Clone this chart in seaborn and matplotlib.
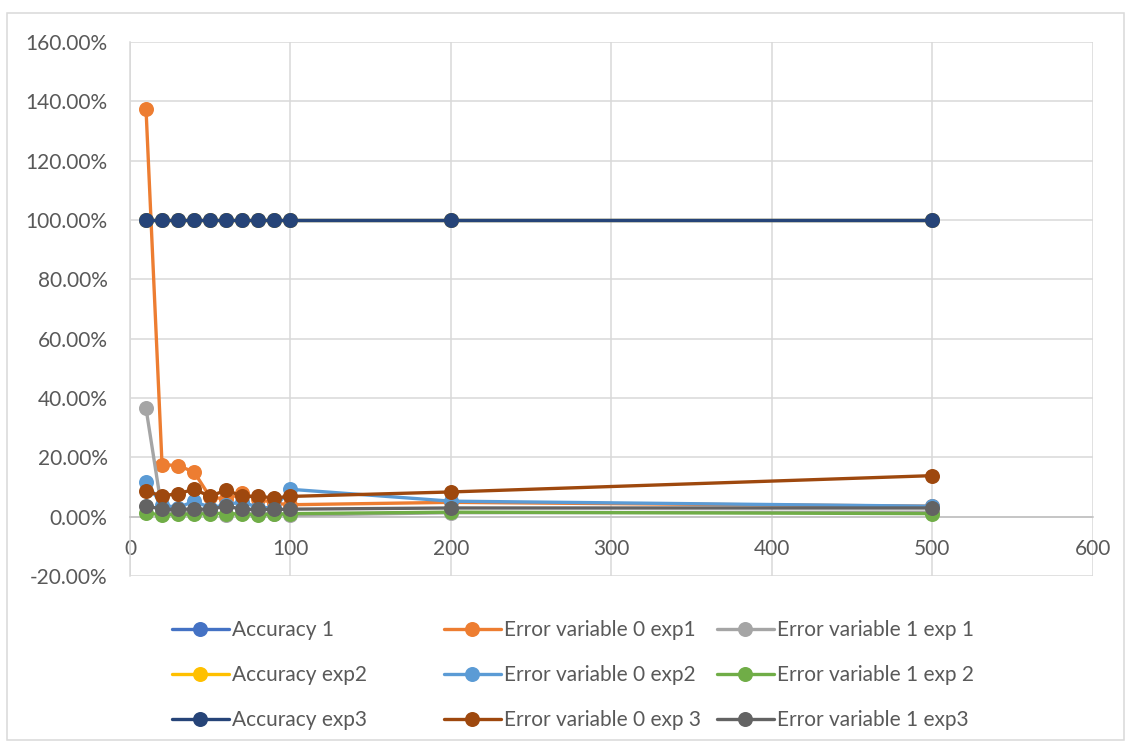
import numpy as np
import pandas as pd
import matplotlib
matplotlib.use("Agg")
import matplotlib.pyplot as plt
from matplotlib.ticker import PercentFormatter, MultipleLocator
from matplotlib.patches import Rectangle
import seaborn as sns

# Sample sizes
x_vals = [10, 20, 30, 40, 50, 60, 70, 80, 90, 100, 200, 500]

# Series (fractions, 1.0 = 100%)
accuracy_1 = [1.0] * 12
error0_exp1 = [1.375, 0.175, 0.172, 0.150, 0.065, 0.060, 0.078, 0.060, 0.045, 0.040, 0.048, 0.035]
error1_exp1 = [0.365, 0.020, 0.015, 0.015, 0.015, 0.007, 0.012, 0.010, 0.010, 0.005, 0.013, 0.015]
accuracy_exp2 = [1.0] * 12
error0_exp2 = [0.115, 0.040, 0.030, 0.052, 0.030, 0.040, 0.050, 0.030, 0.030, 0.092, 0.052, 0.035]
error1_exp2 = [0.012, 0.006, 0.008, 0.008, 0.010, 0.010, 0.008, 0.006, 0.008, 0.010, 0.015, 0.010]
accuracy_exp3 = [1.0] * 12
error0_exp3 = [0.085, 0.070, 0.077, 0.092, 0.068, 0.090, 0.068, 0.068, 0.063, 0.068, 0.083, 0.138]
error1_exp3 = [0.037, 0.024, 0.025, 0.025, 0.025, 0.035, 0.025, 0.024, 0.024, 0.025, 0.029, 0.029]

series_names = ["Accuracy 1", "Error variable 0 exp1", "Error variable 1 exp 1",
                "Accuracy exp2", "Error variable 0 exp2", "Error variable 1 exp 2",
                "Accuracy exp3", "Error variable 0 exp 3", "Error variable 1 exp3"]
series_values = [accuracy_1, error0_exp1, error1_exp1,
                 accuracy_exp2, error0_exp2, error1_exp2,
                 accuracy_exp3, error0_exp3, error1_exp3]
series_colors = ["#4472C4", "#ED7D31", "#A5A5A5",
                 "#FFC000", "#5B9BD5", "#70AD47",
                 "#264478", "#9E480E", "#636363"]

df = pd.concat(
    [pd.DataFrame({"x": x_vals, "value": v, "series": n}) for n, v in zip(series_names, series_values)],
    ignore_index=True,
)

sns.set_style("white")
plt.rcParams["font.family"] = ["Lato", "DejaVu Sans"]
plt.rcParams["axes.unicode_minus"] = False

fig = plt.figure(figsize=(11.3, 7.47), dpi=100)
ax = fig.add_axes([0.115, 0.229, 0.852, 0.715])

sns.lineplot(data=df, x="x", y="value", hue="series", hue_order=series_names,
             palette=dict(zip(series_names, series_colors)), marker="o",
             markersize=10.8, markeredgewidth=0, linewidth=2.4, legend=False,
             ax=ax, zorder=3)

ax.set_xlim(0, 600)
ax.set_ylim(-0.2, 1.6)
ax.xaxis.set_major_locator(MultipleLocator(100))
ax.yaxis.set_major_locator(MultipleLocator(0.2))
ax.yaxis.set_major_formatter(PercentFormatter(xmax=1, decimals=2))
ax.grid(True, color="#D9D9D9", linewidth=1.1)
ax.set_axisbelow(True)
ax.set_xlabel("")
ax.set_ylabel("")

for side in ["top", "right"]:
    ax.spines[side].set_visible(False)
ax.spines["left"].set_color("#D9D9D9")
ax.spines["left"].set_linewidth(1.1)
ax.spines["bottom"].set_position(("data", 0))
ax.spines["bottom"].set_color("#BFBFBF")
ax.spines["bottom"].set_linewidth(1.1)
ax.tick_params(axis="both", length=0, labelsize=15, labelcolor="#595959")
ax.tick_params(axis="y", pad=16)
ax.tick_params(axis="x", pad=16)

# Legend: three fixed-width columns, filled row by row
handles = ax.lines[:len(series_names)]
col_left_px = [172, 444, 717]
for c, left in enumerate(col_left_px):
    idx = [3 * r + c for r in range(3)]
    leg = fig.legend([handles[i] for i in idx], [series_names[i] for i in idx],
                     loc="upper left", bbox_to_anchor=((left - 8) / 1130, 1 - 612 / 747),
                     ncol=1, frameon=False, fontsize=15, labelcolor="#595959",
                     handlelength=2.7, handletextpad=0.15, labelspacing=1.2,
                     borderaxespad=0, borderpad=0.4)

fig.patches.append(Rectangle((0.0065, 0.009), 0.988, 0.974, transform=fig.transFigure,
                             fill=False, edgecolor="#D9D9D9", linewidth=1.1))

fig.savefig("out.png", dpi=100)
